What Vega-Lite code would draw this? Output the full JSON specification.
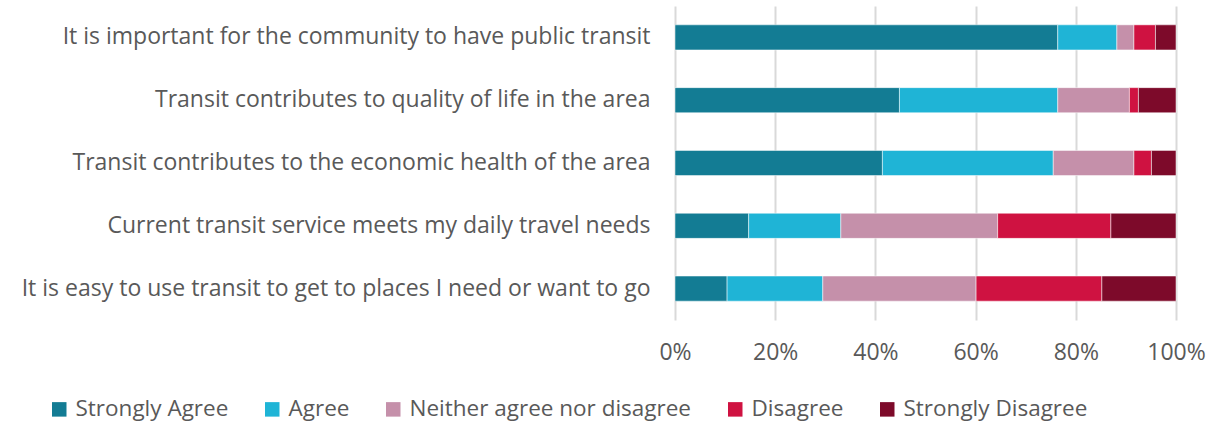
{
  "$schema": "https://vega.github.io/schema/vega-lite/v6.json",
  "autosize": {"type": "none"},
  "padding": {"left": 675, "top": 6, "right": 54, "bottom": 106},
  "width": 501,
  "height": 314,
  "config": {
    "view": {"stroke": null},
    "font": "Open Sans"
  },
  "data": {
    "values": [
      {"statement": "It is important for the community to have public transit", "response": "Strongly Agree", "k": 1, "pct": 76.4},
      {"statement": "It is important for the community to have public transit", "response": "Agree", "k": 2, "pct": 11.8},
      {"statement": "It is important for the community to have public transit", "response": "Neither agree nor disagree", "k": 3, "pct": 3.4},
      {"statement": "It is important for the community to have public transit", "response": "Disagree", "k": 4, "pct": 4.3},
      {"statement": "It is important for the community to have public transit", "response": "Strongly Disagree", "k": 5, "pct": 4.1},
      {"statement": "Transit contributes to quality of life in the area", "response": "Strongly Agree", "k": 1, "pct": 44.8},
      {"statement": "Transit contributes to quality of life in the area", "response": "Agree", "k": 2, "pct": 31.6},
      {"statement": "Transit contributes to quality of life in the area", "response": "Neither agree nor disagree", "k": 3, "pct": 14.3},
      {"statement": "Transit contributes to quality of life in the area", "response": "Disagree", "k": 4, "pct": 1.8},
      {"statement": "Transit contributes to quality of life in the area", "response": "Strongly Disagree", "k": 5, "pct": 7.5},
      {"statement": "Transit contributes to the economic health of the area", "response": "Strongly Agree", "k": 1, "pct": 41.4},
      {"statement": "Transit contributes to the economic health of the area", "response": "Agree", "k": 2, "pct": 34.1},
      {"statement": "Transit contributes to the economic health of the area", "response": "Neither agree nor disagree", "k": 3, "pct": 16.1},
      {"statement": "Transit contributes to the economic health of the area", "response": "Disagree", "k": 4, "pct": 3.5},
      {"statement": "Transit contributes to the economic health of the area", "response": "Strongly Disagree", "k": 5, "pct": 4.9},
      {"statement": "Current transit service meets my daily travel needs", "response": "Strongly Agree", "k": 1, "pct": 14.7},
      {"statement": "Current transit service meets my daily travel needs", "response": "Agree", "k": 2, "pct": 18.4},
      {"statement": "Current transit service meets my daily travel needs", "response": "Neither agree nor disagree", "k": 3, "pct": 31.3},
      {"statement": "Current transit service meets my daily travel needs", "response": "Disagree", "k": 4, "pct": 22.6},
      {"statement": "Current transit service meets my daily travel needs", "response": "Strongly Disagree", "k": 5, "pct": 13.0},
      {"statement": "It is easy to use transit to get to places I need or want to go", "response": "Strongly Agree", "k": 1, "pct": 10.4},
      {"statement": "It is easy to use transit to get to places I need or want to go", "response": "Agree", "k": 2, "pct": 19.1},
      {"statement": "It is easy to use transit to get to places I need or want to go", "response": "Neither agree nor disagree", "k": 3, "pct": 30.6},
      {"statement": "It is easy to use transit to get to places I need or want to go", "response": "Disagree", "k": 4, "pct": 25.1},
      {"statement": "It is easy to use transit to get to places I need or want to go", "response": "Strongly Disagree", "k": 5, "pct": 14.8}
    ]
  },
  "mark": {"type": "bar", "stroke": "white", "strokeWidth": 0.5},
  "encoding": {
    "y": {
      "field": "statement",
      "type": "nominal",
      "sort": null,
      "scale": {"paddingInner": 0.6, "paddingOuter": 0.3},
      "axis": {
        "title": null,
        "domain": false,
        "ticks": false,
        "labelFontSize": 23,
        "labelColor": "#595959",
        "labelPadding": 25,
        "labelLimit": 700
      }
    },
    "x": {
      "field": "pct",
      "type": "quantitative",
      "stack": "normalize",
      "scale": {"domain": [0, 1], "nice": false},
      "axis": {
        "title": null,
        "values": [0, 0.2, 0.4, 0.6, 0.8, 1],
        "format": ".0%",
        "domain": false,
        "ticks": false,
        "grid": true,
        "gridColor": "#D9D9D9",
        "gridWidth": 2,
        "labelFontSize": 23,
        "labelColor": "#595959",
        "labelPadding": 21,
        "labelFlush": false
      }
    },
    "order": {"field": "k", "type": "quantitative"},
    "color": {
      "field": "response",
      "type": "nominal",
      "scale": {
        "domain": ["Strongly Agree", "Agree", "Neither agree nor disagree", "Disagree", "Strongly Disagree"],
        "range": ["#137C94", "#1FB4D6", "#C590AA", "#CF1241", "#7D0A2A"]
      },
      "legend": {
        "title": null,
        "orient": "none",
        "direction": "horizontal",
        "legendX": -627,
        "legendY": 392,
        "symbolType": "square",
        "symbolSize": 210,
        "symbolStrokeWidth": 0,
        "symbolOpacity": 1,
        "labelFontSize": 22.5,
        "labelColor": "#595959",
        "labelOffset": 5,
        "columnPadding": 32,
        "labelLimit": 400
      }
    }
  }
}
